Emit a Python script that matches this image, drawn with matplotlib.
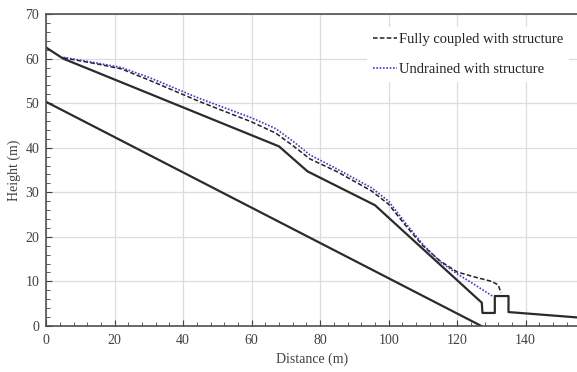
import numpy as np
import matplotlib.pyplot as plt
from matplotlib.ticker import MultipleLocator

# slope geometry (distance, height) in metres
base_x = [0, 127]
base_y = [50.3, 0]

ground_x = [0, 5, 68, 76.3, 96, 127.2, 127.4, 131, 131, 135, 135, 155]
ground_y = [62.5, 60, 40.3, 34.7, 27.1, 5.2, 2.9, 2.9, 6.7, 6.7, 3.1, 1.9]

# deformed surfaces
coupled_x = [5, 15, 22, 30, 45, 60, 67, 72, 77, 85, 95, 100, 105, 110, 115, 120, 125, 130, 132, 132.8]
coupled_y = [60.2, 58.8, 57.7, 55.2, 50.3, 45.8, 43.3, 40.5, 37.5, 34.6, 30.3, 27.3, 22.5, 18.0, 14.6, 12.1, 11.0, 10.0, 9.2, 7.4]

undrained_x = [5, 15, 22, 30, 45, 60, 67, 72, 77, 85, 95, 100, 105, 110, 115, 120, 125, 130.5]
undrained_y = [60.3, 59.0, 58.0, 55.8, 51.0, 46.7, 44.3, 41.5, 38.4, 35.2, 31.0, 28.0, 23.0, 18.3, 14.4, 11.7, 9.3, 6.6]

plt.rcParams['font.family'] = ['Liberation Serif']
txt = '#404040'

fig = plt.figure(figsize=(5.77, 3.72), dpi=100)
ax = fig.add_axes([0.08, 0.124, 0.92, 0.838])

ax.plot(base_x, base_y, c='#2b2b2b', lw=1.6)
ax.plot(ground_x, ground_y, c='#2b2b2b', lw=1.6)
ax.plot(coupled_x, coupled_y, c='#222222', ls=(0, (3, 1.5)), lw=1.1,
        label='Fully coupled with structure')
ax.plot(undrained_x, undrained_y, c='#3a3ac8', ls=(0, (1, 1)), lw=1.2,
        label='Undrained with structure')

ax.set_xlim(0, 155)
ax.set_ylim(0, 70)
ax.xaxis.set_major_locator(MultipleLocator(20))
ax.xaxis.set_minor_locator(MultipleLocator(4))
ax.yaxis.set_major_locator(MultipleLocator(10))
ax.yaxis.set_minor_locator(MultipleLocator(2))
ax.tick_params(which='both', direction='in', colors='#404040', labelcolor=txt, labelsize=10)
ax.tick_params(which='major', length=4)
ax.tick_params(which='minor', length=3)
ax.tick_params(axis='x', which='major', pad=6)
ax.tick_params(axis='y', which='major', pad=5)
ax.grid(True, which='major', color='#dddddd', lw=0.9)
ax.set_axisbelow(True)

for s in ['left', 'bottom', 'top']:
    ax.spines[s].set_color('#505050')
    ax.spines[s].set_linewidth(1.2)
ax.spines['right'].set_visible(False)

ax.set_xlabel('Distance (m)', fontsize=10, color=txt, labelpad=4)
ax.set_ylabel('Height (m)', fontsize=10, color=txt, labelpad=3)

leg = ax.legend(loc='upper right', frameon=True, fontsize=10.5, handlelength=1.65,
                handletextpad=0.15, labelspacing=1.15, borderaxespad=0.3,
                bbox_to_anchor=(0.993, 0.972))
leg.get_frame().set_facecolor('white')
leg.get_frame().set_edgecolor('none')
leg.get_frame().set_alpha(1)
for t in leg.get_texts():
    t.set_color('#222222')

fig.savefig('out.png', dpi=100)
